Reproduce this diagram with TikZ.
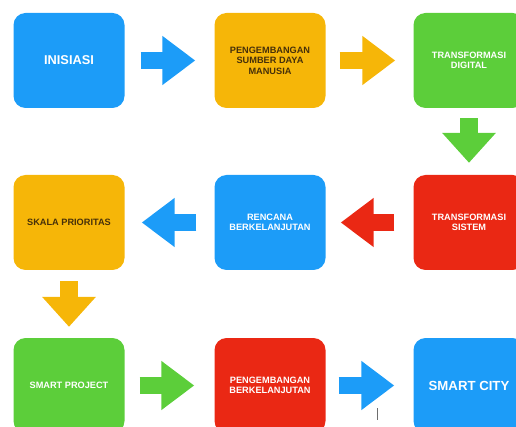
\documentclass[tikz,border=0pt]{standalone}
\usepackage{fontspec}
\setmainfont{Liberation Sans}
\usetikzlibrary{arrows.meta}
\definecolor{boxBlue}{RGB}{28,156,248}
\definecolor{boxOrange}{RGB}{246,182,8}
\definecolor{boxGreen}{RGB}{92,206,58}
\definecolor{boxRed}{RGB}{234,40,20}
\definecolor{darkText}{RGB}{70,48,10}
\definecolor{cursorGray}{RGB}{110,110,110}

\begin{document}
\begin{tikzpicture}[
  x=1pt, y=-1pt,
  font=\bfseries\fontsize{9.2}{10.4}\selectfont,
  box/.style={
    rounded corners=12pt,
    align=center,
    inner sep=2pt,
    minimum width=111pt,
    minimum height=95pt,
    text=white,
  },
  bigtext/.style={
    font=\bfseries\fontsize{12.8}{14}\selectfont,
  },
  flow/.style={
    line width=17pt,
    -{Triangle[length=33pt, width=47pt]},
  },
  flowdown/.style={
    line width=18pt,
    -{Triangle[length=30pt, width=52pt]},
  },
]

  \useasboundingbox (0,0) rectangle (516,427);
  \clip (0,0) rectangle (516,427);

  % row 1
  \node[box, fill=boxBlue, bigtext] (ini) at (69,60.5) {INISIASI};
  \node[box, fill=boxOrange, text=darkText] (psdm) at (270,60.5)
    {PENGEMBANGAN\\SUMBER DAYA\\MANUSIA};
  \node[box, fill=boxGreen] (tdig) at (469,60.5)
    {TRANSFORMASI\\DIGITAL};

  % row 2
  \node[box, fill=boxOrange, text=darkText] (skala) at (69,222.5)
    {SKALA PRIORITAS};
  \node[box, fill=boxBlue] (renc) at (270,222.5)
    {RENCANA\\BERKELANJUTAN};
  \node[box, fill=boxRed] (tsis) at (469,222.5)
    {TRANSFORMASI\\SISTEM};

  % row 3
  \node[box, fill=boxGreen] (sproj) at (69,385.5) {SMART PROJECT};
  \node[box, fill=boxRed] (pberk) at (270,385.5)
    {PENGEMBANGAN\\BERKELANJUTAN};
  \node[box, fill=boxBlue, font=\bfseries\fontsize{13.2}{15}\selectfont]
    (scity) at (469,385.5) {SMART CITY};

  \draw[flow, boxBlue] ([xshift=16pt] ini.east) -- ([xshift=-19pt] psdm.west);
  \draw[flow, boxOrange] ([xshift=14pt] psdm.east) -- ([xshift=-18pt] tdig.west);
  \draw[flowdown, boxGreen] ([yshift=-10pt] tdig.south) -- ([yshift=12pt] tsis.north);
  \draw[flow, boxRed] ([xshift=-19pt] tsis.west) -- ([xshift=15pt] renc.east);
  \draw[flow, boxBlue] ([xshift=-18pt] renc.west) -- ([xshift=17pt] skala.east);
  \draw[flowdown, boxOrange] ([yshift=-11pt] skala.south) -- ([yshift=11pt] sproj.north);
  \draw[flow, boxGreen] ([xshift=15pt] sproj.east) -- ([xshift=-20pt] pberk.west);
  \draw[flow, boxBlue] ([xshift=13pt] pberk.east) -- ([xshift=-19pt] scity.west);

  \draw[cursorGray, line width=1pt] (377.5,408) -- (377.5,420);

\end{tikzpicture}
\end{document}
